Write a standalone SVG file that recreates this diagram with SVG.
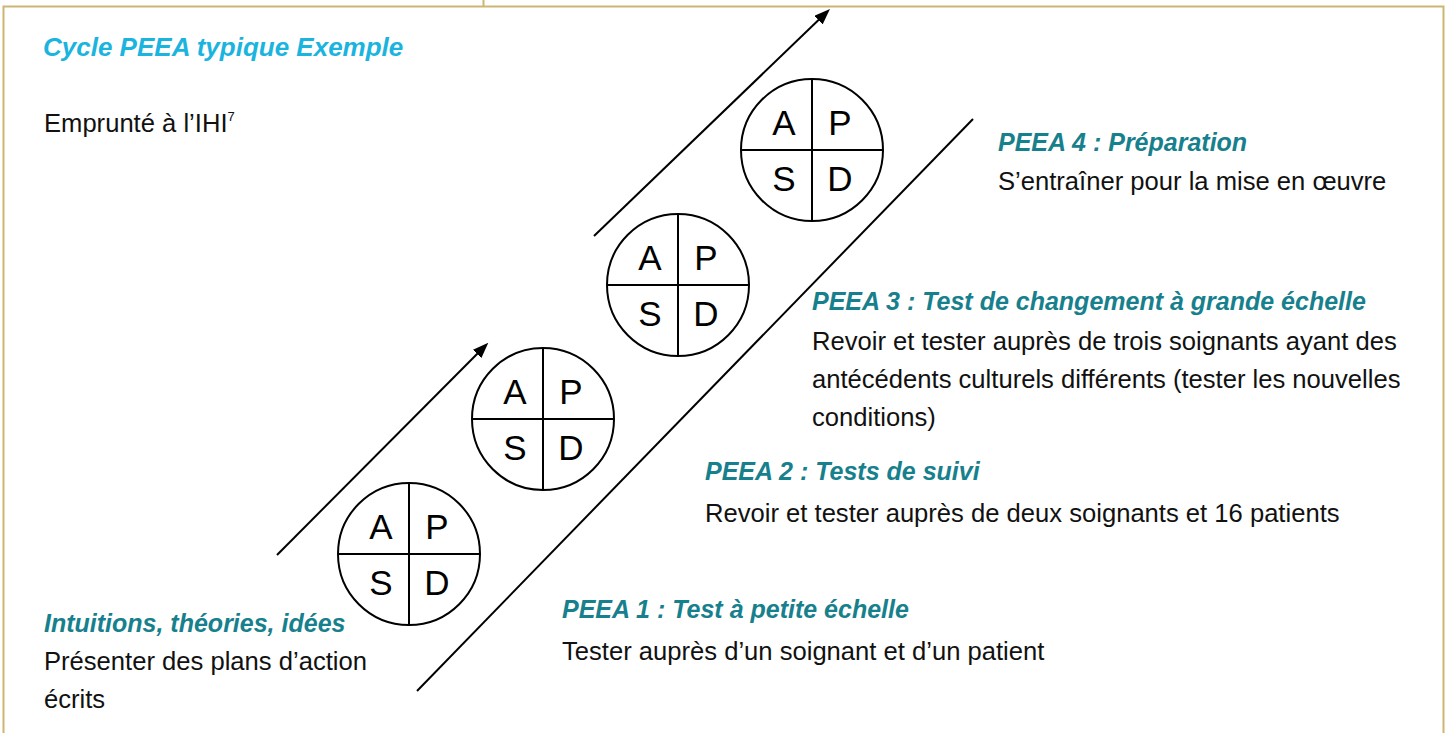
<svg xmlns="http://www.w3.org/2000/svg" width="1447" height="733" viewBox="0 0 1447 733">
  <style>
    .frame { fill: none; stroke: #cdb574; stroke-width: 2; }
    .ring { fill: #ffffff; stroke: #000000; stroke-width: 2; }
    .cross { stroke: #000000; stroke-width: 2; }
    .q { font-family: "Liberation Sans", Arial, sans-serif; font-size: 35px; fill: #000000; text-anchor: middle; }
    .flow { stroke: #000000; stroke-width: 2; fill: none; }
    .title { font-family: "Liberation Sans", Arial, sans-serif; font-size: 26px; font-weight: bold; font-style: italic; fill: #1bb4de; }
    .head { font-family: "Liberation Sans", Arial, sans-serif; font-size: 25px; font-weight: bold; font-style: italic; fill: #17808d; }
    .body { font-family: "Liberation Sans", Arial, sans-serif; font-size: 25.6px; fill: #111111; }
  </style>
  <defs>
    <marker id="ah" markerWidth="16" markerHeight="12" refX="12" refY="6" orient="auto" markerUnits="userSpaceOnUse">
      <path d="M0,0 L16,6 L0,12 z" fill="#000000"/>
    </marker>
  </defs>

  <rect width="1447" height="733" fill="#ffffff"/>

  <!-- panel frame -->
  <g id="frame">
    <path class="frame" d="M3.5,733 V6.5 H1443.5 V733"/>
    <line class="frame" x1="483.5" y1="0" x2="483.5" y2="6.5"/>
  </g>

  <!-- connectors -->
  <g id="connectors">
    <line class="flow" x1="277" y1="555" x2="485.5" y2="345.5" marker-end="url(#ah)"/>
    <line class="flow" x1="594" y1="236" x2="827.1" y2="11.8" marker-end="url(#ah)"/>
    <line class="flow" x1="417" y1="691" x2="973" y2="119"/>
  </g>

  <!-- PDSA cycles -->
  <g id="cycle1">
    <circle class="ring" cx="409" cy="554" r="71"/>
    <line class="cross" x1="409" y1="483" x2="409" y2="625"/>
    <line class="cross" x1="338" y1="554" x2="480" y2="554"/>
    <text class="q" x="381" y="539">A</text>
    <text class="q" x="437" y="539">P</text>
    <text class="q" x="381" y="595">S</text>
    <text class="q" x="437" y="595">D</text>
  </g>
  <g id="cycle2">
    <circle class="ring" cx="543" cy="419" r="71"/>
    <line class="cross" x1="543" y1="348" x2="543" y2="490"/>
    <line class="cross" x1="472" y1="419" x2="614" y2="419"/>
    <text class="q" x="515" y="404">A</text>
    <text class="q" x="571" y="404">P</text>
    <text class="q" x="515" y="460">S</text>
    <text class="q" x="571" y="460">D</text>
  </g>
  <g id="cycle3">
    <circle class="ring" cx="678" cy="285" r="71"/>
    <line class="cross" x1="678" y1="214" x2="678" y2="356"/>
    <line class="cross" x1="607" y1="285" x2="749" y2="285"/>
    <text class="q" x="650" y="270">A</text>
    <text class="q" x="706" y="270">P</text>
    <text class="q" x="650" y="326">S</text>
    <text class="q" x="706" y="326">D</text>
  </g>
  <g id="cycle4">
    <circle class="ring" cx="812" cy="150" r="71"/>
    <line class="cross" x1="812" y1="79" x2="812" y2="221"/>
    <line class="cross" x1="741" y1="150" x2="883" y2="150"/>
    <text class="q" x="784" y="135">A</text>
    <text class="q" x="840" y="135">P</text>
    <text class="q" x="784" y="191">S</text>
    <text class="q" x="840" y="191">D</text>
  </g>

  <!-- headings and captions -->
  <g id="title">
    <text class="title" x="43" y="56">Cycle PEEA typique Exemple</text>
    <text class="body" x="44" y="132">Emprunté à l’IHI<tspan font-size="13" dy="-11">7</tspan></text>
  </g>
  <g id="label-ideas">
    <text class="head" x="44" y="632">Intuitions, théories, idées</text>
    <text class="body" x="44" y="670">Présenter des plans d’action</text>
    <text class="body" x="44" y="708">écrits</text>
  </g>
  <g id="label-peea1">
    <text class="head" x="562" y="618">PEEA 1 : Test à petite échelle</text>
    <text class="body" x="562" y="660">Tester auprès d’un soignant et d’un patient</text>
  </g>
  <g id="label-peea2">
    <text class="head" x="705" y="480">PEEA 2 : Tests de suivi</text>
    <text class="body" x="705" y="522">Revoir et tester auprès de deux soignants et 16 patients</text>
  </g>
  <g id="label-peea3">
    <text class="head" x="812" y="310">PEEA 3 : Test de changement à grande échelle</text>
    <text class="body" x="812" y="350">Revoir et tester auprès de trois soignants ayant des</text>
    <text class="body" x="812" y="388">antécédents culturels différents (tester les nouvelles</text>
    <text class="body" x="812" y="426">conditions)</text>
  </g>
  <g id="label-peea4">
    <text class="head" x="998" y="151">PEEA 4 : Préparation</text>
    <text class="body" x="998" y="190">S’entraîner pour la mise en œuvre</text>
  </g>
</svg>
